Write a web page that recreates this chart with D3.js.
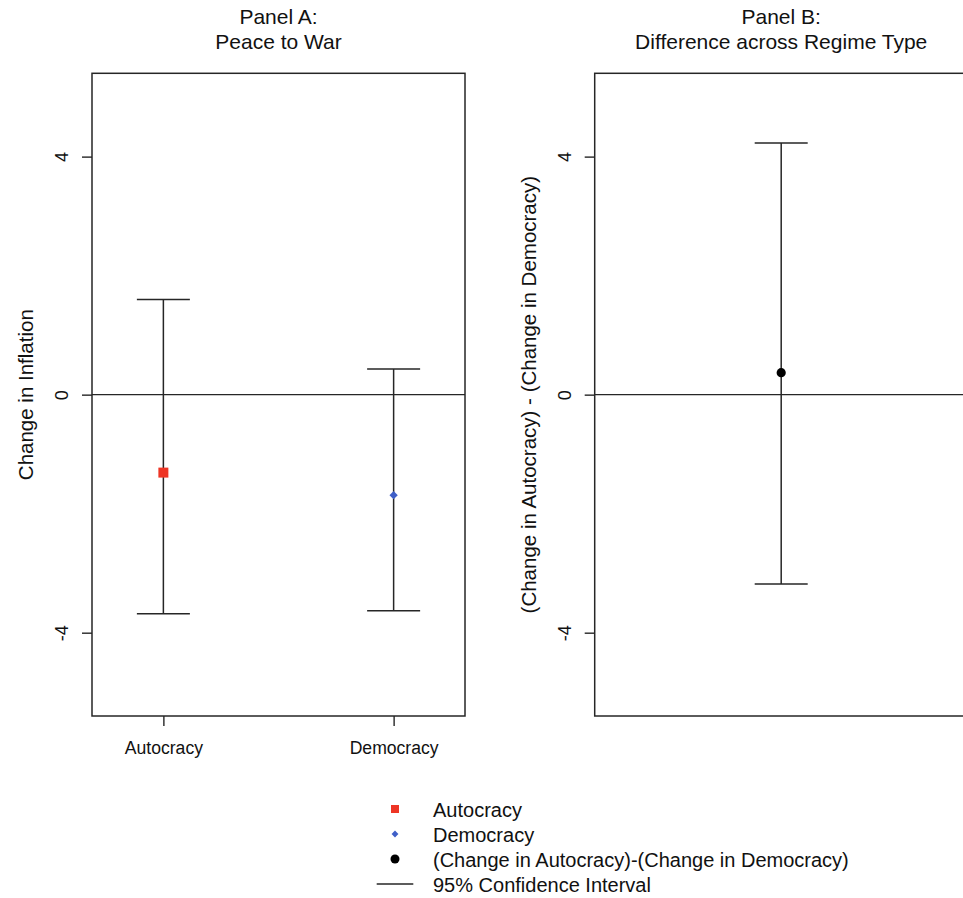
<!DOCTYPE html>
<html>
<head>
<meta charset="utf-8">
<script src="https://cdn.jsdelivr.net/npm/d3@7/dist/d3.min.js"></script>
<style>
  html, body { margin: 0; padding: 0; background: #fff; }
  svg { display: block; font-family: "Liberation Sans", Arial, Helvetica, sans-serif; }
</style>
</head>
<body>
<svg id="chart" width="963" height="898"></svg>
<script>
// Panel A: estimated change in inflation, peace to war, by regime type
const regimes = ["Autocracy", "Democracy"];
const regimeMean = [-1.31, -1.69];
const regimeLower = [-3.68, -3.63];
const regimeUpper = [1.60, 0.43];

// Panel B: difference (autocracy minus democracy)
const diffMean = [0.37];
const diffLower = [-3.18];
const diffUpper = [4.23];

const yTicks = [-4, 0, 4];
const yDomain = [-5.4, 5.4];

const legendLabels = [
  "Autocracy",
  "Democracy",
  "(Change in Autocracy)-(Change in Democracy)",
  "95% Confidence Interval"
];

const ink = "#262626";
const red = "#ee3525";
const blue = "#3f5fc8";

const svg = d3.select("#chart");

const plotTop = 73.3, plotBottom = 716;
const y = d3.scaleLinear().domain(yDomain).range([plotBottom, plotTop]);

function panel(left, right, title, ylab) {
  const g = svg.append("g");
  // two-line panel title
  g.append("text").attr("x", (left + right) / 2).attr("y", 23.5)
    .attr("text-anchor", "middle").attr("font-size", 21).attr("fill", "#111")
    .text(title[0]);
  g.append("text").attr("x", (left + right) / 2).attr("y", 48.5)
    .attr("text-anchor", "middle").attr("font-size", 21).attr("fill", "#111")
    .text(title[1]);

  // y axis with rotated tick labels
  const ax = g.append("g").attr("transform", `translate(${left},0)`)
    .call(d3.axisLeft(y).tickValues(yTicks).tickSize(10).tickPadding(0).tickFormat(d3.format("d")));
  ax.select(".domain").remove();
  ax.selectAll(".tick line").attr("stroke", ink).attr("stroke-width", 1.4);
  ax.selectAll(".tick text")
    .attr("x", null).attr("dy", null)
    .attr("transform", "translate(-24,0) rotate(-90)")
    .attr("text-anchor", "middle")
    .attr("font-size", 18).attr("fill", "#111")
    .text(d => d < 0 ? "-" + Math.abs(d) : d);

  // y axis title
  g.append("text")
    .attr("transform", `translate(${left - 59},${(plotTop + plotBottom) / 2}) rotate(-90)`)
    .attr("text-anchor", "middle").attr("font-size", 20.5).attr("fill", "#111")
    .text(ylab);

  // zero reference line
  g.append("line").attr("x1", left).attr("x2", right)
    .attr("y1", y(0)).attr("y2", y(0))
    .attr("stroke", ink).attr("stroke-width", 1.4);

  // plot frame
  g.append("rect").attr("x", left).attr("y", plotTop)
    .attr("width", right - left).attr("height", plotBottom - plotTop)
    .attr("fill", "none").attr("stroke", ink).attr("stroke-width", 1.5);
  return g;
}

function errorBar(g, cx, lo, hi) {
  const cap = 26.5;
  g.append("line").attr("x1", cx).attr("x2", cx)
    .attr("y1", y(hi)).attr("y2", y(lo))
    .attr("stroke", ink).attr("stroke-width", 1.5);
  [lo, hi].forEach(v => {
    g.append("line").attr("x1", cx - cap).attr("x2", cx + cap)
      .attr("y1", y(v)).attr("y2", y(v))
      .attr("stroke", ink).attr("stroke-width", 1.5);
  });
}

// ---- Panel A ----
const aLeft = 92, aRight = 465;
const gA = panel(aLeft, aRight, ["Panel A:", "Peace to War"], "Change in Inflation");
const x = d3.scalePoint().domain(regimes).range([aLeft, aRight]).padding(0.31);

const xAx = gA.append("g").attr("transform", `translate(0,${plotBottom})`)
  .call(d3.axisBottom(x).tickSize(10).tickPadding(16));
xAx.select(".domain").remove();
xAx.selectAll(".tick line").attr("stroke", ink).attr("stroke-width", 1.4);
xAx.selectAll(".tick text").attr("font-size", 17.6).attr("fill", "#111");

regimes.forEach((r, i) => errorBar(gA, x(r), regimeLower[i], regimeUpper[i]));

// autocracy: square, democracy: diamond
gA.append("path")
  .attr("d", d3.symbol(d3.symbolSquare, 100)())
  .attr("transform", `translate(${x(regimes[0])},${y(regimeMean[0])})`)
  .attr("fill", red);
gA.append("path")
  .attr("d", d3.symbol(d3.symbolDiamond2, 44)())
  .attr("transform", `translate(${x(regimes[1])},${y(regimeMean[1])})`)
  .attr("fill", blue);

// ---- Panel B ----
const bLeft = 594.7, bRight = 967.7;
const gB = panel(bLeft, bRight, ["Panel B:", "Difference across Regime Type"],
  "(Change in Autocracy) - (Change in Democracy)");
const xb = d3.scalePoint().domain(["diff"]).range([bLeft, bRight]).padding(0.5);
errorBar(gB, xb("diff"), diffLower[0], diffUpper[0]);
gB.append("circle").attr("cx", xb("diff")).attr("cy", y(diffMean[0]))
  .attr("r", 4.6).attr("fill", "#000");

// ---- Legend ----
const lg = svg.append("g");
const rowY = d3.scalePoint().domain(legendLabels).range([809, 884]);
const symX = 395;
legendLabels.forEach((lab) => {
  const cy = rowY(lab);
  lg.append("text").attr("x", 433).attr("y", cy + 7.5)
    .attr("font-size", 20).attr("fill", "#111").text(lab);
});
lg.append("path").attr("d", d3.symbol(d3.symbolSquare, 64)())
  .attr("transform", `translate(${symX},${rowY(legendLabels[0])})`).attr("fill", red);
lg.append("path").attr("d", d3.symbol(d3.symbolDiamond2, 30)())
  .attr("transform", `translate(${symX},${rowY(legendLabels[1])})`).attr("fill", blue);
lg.append("circle").attr("cx", symX).attr("cy", rowY(legendLabels[2])).attr("r", 4.5).attr("fill", "#000");
lg.append("line").attr("x1", 376.7).attr("x2", 413.3)
  .attr("y1", rowY(legendLabels[3])).attr("y2", rowY(legendLabels[3]))
  .attr("stroke", ink).attr("stroke-width", 1.4);
</script>
</body>
</html>
